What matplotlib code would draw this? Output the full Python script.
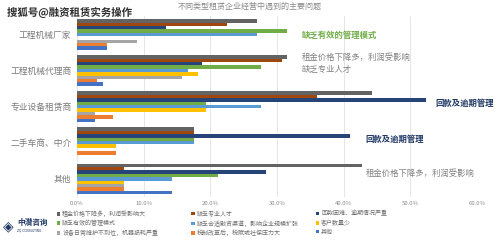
import numpy as np
import matplotlib
matplotlib.use("Agg")
import matplotlib.pyplot as plt
import matplotlib.patheffects as pe
from matplotlib.patches import Patch

plt.rcParams['font.family'] = ['Noto Sans CJK SC', 'DejaVu Sans']

# categories, top to bottom
categories = ["工程机械厂家", "工程机械代理商", "专业设备租赁商", "二手车商、中介", "其他"]

# series, top bar to bottom bar inside each group (values in %)
series_names = [
    "租金价格下降多，利润受影响大",
    "缺乏专业人才",
    "回款困难、逾期情况严重",
    "缺乏有效的管理模式",
    "缺乏合适融资渠道，影响企业规模扩张",
    "客户数量少",
    "设备日常维护不到位，机器损耗严重",
    "税制改革后，税赋或社保压力大",
    "其他",
]
rent = [27.0, 31.5, 44.2, 17.5, 42.7]
talent = [22.5, 30.7, 36.0, 17.5, 7.0]
payback = [13.4, 18.8, 52.4, 41.0, 28.3]
management = [31.5, 27.6, 19.4, 17.5, 21.2]
financing = [27.0, 16.6, 27.6, 17.5, 14.2]
customers = [0.0, 18.2, 19.4, 5.8, 7.0]
maintenance = [9.0, 15.7, 2.7, 0.0, 7.0]
tax = [4.5, 3.0, 5.4, 5.8, 7.0]
other = [4.5, 3.9, 2.7, 0.0, 14.2]
series_values = [rent, talent, payback, management, financing,
                 customers, maintenance, tax, other]
colors = ["#636363", "#9E480E", "#264478", "#70AD47", "#5B9BD5",
          "#FFC000", "#A5A5A5", "#ED7D31", "#4472C4"]

x_ticks = [0, 10, 20, 30, 40, 50, 60]

fig = plt.figure(figsize=(4.99, 2.41), dpi=100)
ax = fig.add_axes([0.154, 0.183, 0.802, 0.749])

n = len(series_names)
h = 0.094
pos = np.arange(len(categories))[::-1]  # first category at top
for i in range(n):
    y = pos + (n - 1 - 2 * i) / 2 * h
    ax.barh(y, np.array(series_values[i]) / 100, height=h, color=colors[i],
            label=series_names[i], zorder=3)

ax.set_ylim(-0.5, len(categories) - 0.5)
ax.set_xlim(0, 0.6)
ax.set_yticks(pos)
ax.set_yticklabels(categories, fontsize=6.3, color="#7a7a7a")
ax.set_xticks(np.array(x_ticks) / 100)
ax.set_xticklabels(["%.1f%%" % t for t in x_ticks], fontsize=4.3, color="#8a8a8a")
ax.tick_params(length=0, pad=4)
ax.tick_params(axis="x", pad=3)
ax.grid(axis="x", color="#e2e2e2", lw=0.6, zorder=0)
for s in ax.spines.values():
    s.set_visible(False)

# annotations
def ypix(p):
    return 4.5 - (p - 16.5) / 36.0

ax.text(0.337, ypix(35), "缺乏有效的管理模式", fontsize=6, color="#70AD47",
        fontweight="bold", va="center")
ax.text(0.337, ypix(57), "租金价格下降多，利润受影响", fontsize=6, color="#808080", va="center")
ax.text(0.337, ypix(69), "缺乏专业人才", fontsize=6, color="#808080", va="center")
ax.text(0.537, ypix(103), "回款及逾期管理", fontsize=6, color="#1F3864",
        fontweight="bold", va="center")
ax.text(0.433, ypix(139), "回款及逾期管理", fontsize=6, color="#1F3864",
        fontweight="bold", va="center")
ax.text(0.433, ypix(173), "租金价格下降多，利润受影响", fontsize=6, color="#808080", va="center")

# title and watermark
fig.text(0.5, 0.975, "不同类型租赁企业经营中遇到的主要问题", fontsize=5.8,
         color="#8a8a8a", ha="center", va="center")
fig.text(0.014, 0.948, "搜狐号@融资租赁实务操作", fontsize=7.5, fontweight="bold",
         color="#2b2b2b", va="center",
         path_effects=[pe.withStroke(linewidth=1.5, foreground="white")])

# legend in three columns (row-major order like the original)
cols_x = [0.108, 0.377, 0.627]
for c in range(3):
    handles = [Patch(facecolor=colors[k], label=series_names[k]) for k in range(c, n, 3)]
    leg = fig.legend(handles=handles, loc="upper left", bbox_to_anchor=(cols_x[c], 0.14),
                     frameon=False, fontsize=4.3, handlelength=0.6, handleheight=0.6,
                     handletextpad=0.3, labelspacing=0.55, borderpad=0,
                     labelcolor="#6e6e6e")

# logo
fig.text(0.005, 0.06, "◈", fontsize=10, color="#1F3864", va="center",
         family="DejaVu Sans")
fig.text(0.034, 0.075, "中潜咨询", fontsize=5.5, fontweight="bold", color="#1F3864",
         va="center")
fig.text(0.034, 0.042, "ZQ CONSULTING", fontsize=2.2, color="#1F3864", va="center",
         family="DejaVu Sans")

fig.savefig("out.png", dpi=100)
